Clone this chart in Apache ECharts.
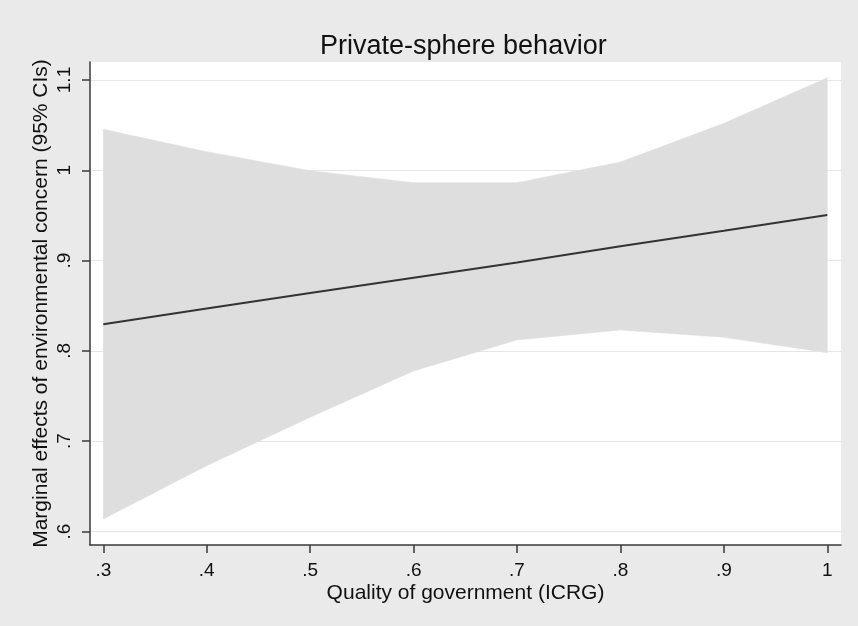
<!DOCTYPE html>
<html>
<head>
<meta charset="utf-8">
<script src="https://cdn.jsdelivr.net/npm/echarts@6/dist/echarts.min.js"></script>
<style>
html,body{margin:0;padding:0;background:#eaeaea;}
#chart{width:858px;height:626px;}
</style>
</head>
<body>
<div id="chart"></div>
<script>
// Data
var qog = [0.3, 0.4, 0.5, 0.6, 0.7, 0.8, 0.9, 1.0];
var marginalEffect = [0.8295, 0.847, 0.864, 0.881, 0.898, 0.916, 0.933, 0.9505];
var upperCI = [1.0454, 1.0206, 0.9996, 0.9863, 0.9863, 1.0092, 1.052, 1.1025];
var lowerCI = [0.6138, 0.6729, 0.7265, 0.7778, 0.8121, 0.8231, 0.815, 0.798];

var xTicks = [0.3, 0.4, 0.5, 0.6, 0.7, 0.8, 0.9, 1.0];
var xTickLabels = ['.3', '.4', '.5', '.6', '.7', '.8', '.9', '1'];
var yTicks = [0.6, 0.7, 0.8, 0.9, 1.0, 1.1];
var yTickLabels = ['.6', '.7', '.8', '.9', '1', '1.1'];

var titleText = 'Private-sphere behavior';
var xTitle = 'Quality of government (ICRG)';
var yTitle = 'Marginal effects of environmental concern (95% CIs)';

function labelFor(ticks, labels) {
  return function (v) {
    for (var i = 0; i < ticks.length; i++) {
      if (Math.abs(ticks[i] - v) < 1e-6) return labels[i];
    }
    return '';
  };
}

var FONT = '"Liberation Sans", Arial, Helvetica, sans-serif';
var chart = echarts.init(document.getElementById('chart'), null, {renderer: 'canvas'});

var linePts = qog.map(function (x, i) { return [x, marginalEffect[i]]; });
var bandRows = qog.map(function (x, i) { return [x, lowerCI[i], upperCI[i]]; });

var axisCol = '#3a3a3a';

function renderBand(params, api) {
  if (params.dataIndex !== 0) return null;
  var pts = [];
  var i;
  for (i = 0; i < qog.length; i++) pts.push(api.coord([qog[i], upperCI[i]]));
  for (i = qog.length - 1; i >= 0; i--) pts.push(api.coord([qog[i], lowerCI[i]]));
  return {
    type: 'polygon',
    shape: {points: pts},
    style: {fill: '#dedede', stroke: '#dedede', lineWidth: 0.5}
  };
}

chart.setOption({
  backgroundColor: '#eaeaea',
  animation: false,
  title: {
    text: titleText,
    left: 320,
    top: 33,
    padding: 0,
    textStyle: {fontFamily: FONT, fontSize: 27, fontWeight: 'normal', color: '#111'}
  },
  grid: {
    left: 90, right: 17, top: 62, bottom: 81,
    show: true, backgroundColor: '#ffffff', borderWidth: 0
  },
  xAxis: {
    type: 'value',
    min: 0.3 - 13.3 / 1034.3,
    max: 1.0 + 13.7 / 1034.3,
    name: xTitle,
    nameLocation: 'middle',
    nameGap: 38,
    nameMoveOverlap: false,
    nameTextStyle: {fontFamily: FONT, fontSize: 21, color: '#111'},
    axisLine: {show: true, onZero: false, lineStyle: {color: axisCol, width: 1.5}},
    axisTick: {show: true, length: 8, customValues: xTicks, lineStyle: {color: axisCol, width: 1.5}},
    axisLabel: {
      customValues: xTicks,
      formatter: labelFor(xTicks, xTickLabels),
      margin: 16,
      fontFamily: FONT, fontSize: 19, color: '#111'
    },
    splitLine: {show: false}
  },
  yAxis: {
    type: 'value',
    min: 0.6 - 13.5 / 903,
    max: 1.1 + 18 / 903,
    name: yTitle,
    nameLocation: 'middle',
    nameGap: 38,
    nameMoveOverlap: false,
    nameTextStyle: {fontFamily: FONT, fontSize: 21, color: '#111'},
    axisLine: {show: true, onZero: false, lineStyle: {color: axisCol, width: 1.5}},
    axisTick: {show: true, length: 8, customValues: yTicks, lineStyle: {color: axisCol, width: 1.5}},
    axisLabel: {
      customValues: yTicks,
      formatter: labelFor(yTicks, yTickLabels),
      rotate: 90,
      margin: 16,
      fontFamily: FONT, fontSize: 19, color: '#111'
    },
    splitLine: {show: true, lineStyle: {color: '#e6e6e6', width: 1.2}}
  },
  series: [
    {
      name: 'band',
      type: 'custom',
      data: bandRows,
      encode: {x: 0, y: [1, 2]},
      renderItem: renderBand,
      silent: true,
      z: 1
    },
    {
      name: 'effect',
      type: 'line',
      data: linePts,
      symbol: 'none',
      z: 5,
      lineStyle: {color: '#333333', width: 2}
    }
  ]
});
</script>
</body>
</html>
